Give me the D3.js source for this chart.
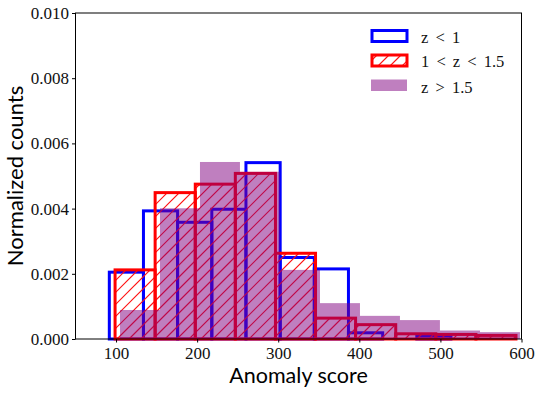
<html>
<head>
  <script src="https://d3js.org/d3.v7.min.js"></script>
  <style>
    body { margin: 0; background: #fff; }
  </style>
</head>
<body>
  <script>
    // bin edges and normalized counts
    const blueEdges = [91.7, 133.8, 175.9, 218.1, 260.2, 302.4, 344.5, 386.6, 428.8, 470.9, 513.0]
    const blueCounts = [0.00205, 0.00393, 0.00358, 0.00398, 0.00541, 0.00250, 0.00215, 0.00019, 0, 0.00010]

    const redEdges = [98.8, 148.2, 197.7, 247.1, 296.6, 346.0, 395.4, 444.9, 494.3, 543.8, 593.2]
    const redCounts = [0.00212, 0.00449, 0.00475, 0.00508, 0.00263, 0.00064, 0.00044, 0.00016, 0.00014, 0.00011]

    const purpleEdges = [104.9, 154.2, 203.5, 252.8, 302.1, 351.5, 400.8, 450.1, 499.4, 548.8, 598.1]
    const purpleCounts = [0.00089, 0.00401, 0.00543, 0.00513, 0.00212, 0.00110, 0.00071, 0.00058, 0.00026, 0.00021]

    const xTicks = [100, 200, 300, 400, 500, 600]
    const yTicks = [0, 0.002, 0.004, 0.006, 0.008, 0.010]
    const legendLabels = ['z < 1', '1 < z < 1.5', 'z > 1.5']

    var width = 540,
        height = 393;
    var margin = {left: 75.5, right: 18.5, top: 13, bottom: 54};

    var svg = d3.select('body')
      .append('svg')
      .attr('width', width)
      .attr('height', height);

    var x = d3.scaleLinear()
      .domain([50, 600])
      .range([margin.left, width - margin.right]);

    var y = d3.scaleLinear()
      .domain([0, 0.010])
      .range([height - margin.bottom, margin.top]);

    function bins(edges, counts) {
      return counts.map(function(c, i) {
        return {x0: edges[i], x1: edges[i + 1], v: c};
      });
    }

    function drawBars(parent, data) {
      return parent.selectAll('rect')
        .data(data)
        .enter()
        .append('rect')
        .attr('x', function(d) { return x(d.x0); })
        .attr('width', function(d) { return x(d.x1) - x(d.x0); })
        .attr('y', function(d) { return y(d.v); })
        .attr('height', function(d) { return y(0) - y(d.v); });
    }

    // legend patch boxes
    var legX = 372, legW = 35, legH = 11;
    var rowY = [30.5, 55, 79.5];
    var baseY = [42.5, 67, 93];

    // clip region for the '/' hatch: red bars + red legend patch
    var defs = svg.append('defs');
    var clip = defs.append('clipPath').attr('id', 'hatchclip');
    drawBars(clip, bins(redEdges, redCounts));
    clip.append('rect')
      .attr('x', legX).attr('y', rowY[1]).attr('width', legW).attr('height', legH);

    drawBars(svg.append('g'), bins(blueEdges, blueCounts))
      .attr('fill', 'none')
      .attr('stroke', 'blue')
      .attr('stroke-width', 3);

    // hatch lines, 12px apart, drawn over whole canvas then clipped
    var hatch = svg.append('g').attr('clip-path', 'url(#hatchclip)');
    hatch.selectAll('line')
      .data(d3.range(-height, width + 12, 12))
      .enter()
      .append('line')
      .attr('x1', function(d) { return d; })
      .attr('y1', height)
      .attr('x2', function(d) { return d + height; })
      .attr('y2', 0)
      .attr('stroke', '#ff1010')
      .attr('stroke-width', 1.2);

    drawBars(svg.append('g'), bins(redEdges, redCounts))
      .attr('fill', 'none')
      .attr('stroke', 'red')
      .attr('stroke-width', 3);

    drawBars(svg.append('g'), bins(purpleEdges, purpleCounts))
      .attr('fill', 'purple')
      .attr('fill-opacity', 0.5);

    // axes
    svg.append('g')
      .attr('transform', 'translate(0,' + y(0) + ')')
      .call(d3.axisBottom(x).tickValues(xTicks).tickSize(3.5).tickPadding(4).tickFormat(d3.format('d')));

    svg.append('g')
      .attr('transform', 'translate(' + x(50) + ',0)')
      .call(d3.axisLeft(y).tickValues(yTicks).tickSize(3.5).tickPadding(3).tickFormat(d3.format('.3f')));

    svg.selectAll('.tick text')
      .attr('font-family', 'Liberation Serif, serif')
      .attr('font-size', 17)
      .attr('fill', '#111');
    svg.selectAll('.domain').remove();

    // frame
    svg.append('rect')
      .attr('x', x(50))
      .attr('y', y(0.010))
      .attr('width', x(600) - x(50))
      .attr('height', y(0) - y(0.010))
      .attr('fill', 'none')
      .attr('stroke', 'black')
      .attr('stroke-width', 1);

    svg.append('text')
      .attr('x', (x(50) + x(600)) / 2)
      .attr('y', 383)
      .attr('text-anchor', 'middle')
      .attr('font-family', 'Lato, sans-serif')
      .attr('font-size', 21.5)
      .text('Anomaly score');

    svg.append('text')
      .attr('transform', 'translate(23,' + (y(0) + y(0.010)) / 2 + ') rotate(-90)')
      .attr('text-anchor', 'middle')
      .attr('font-family', 'Lato, sans-serif')
      .attr('font-size', 22)
      .text('Normalized counts');

    // legend
    var legend = svg.append('g');
    legend.append('rect')
      .attr('x', legX).attr('y', rowY[0]).attr('width', legW).attr('height', legH)
      .attr('fill', 'none').attr('stroke', 'blue').attr('stroke-width', 3);
    legend.append('rect')
      .attr('x', legX).attr('y', rowY[1]).attr('width', legW).attr('height', legH)
      .attr('fill', 'none').attr('stroke', 'red').attr('stroke-width', 3);
    legend.append('rect')
      .attr('x', 371).attr('y', rowY[2]).attr('width', 36).attr('height', 11.5)
      .attr('fill', 'purple').attr('fill-opacity', 0.5);

    legend.selectAll('text')
      .data(legendLabels)
      .enter()
      .append('text')
      .attr('x', 421)
      .attr('y', function(d, i) { return baseY[i]; })
      .attr('font-family', 'Liberation Serif, serif')
      .attr('font-size', 16.5)
      .attr('word-spacing', 3)
      .attr('fill', '#111')
      .text(function(d) { return d; });
  </script>
</body>
</html>
